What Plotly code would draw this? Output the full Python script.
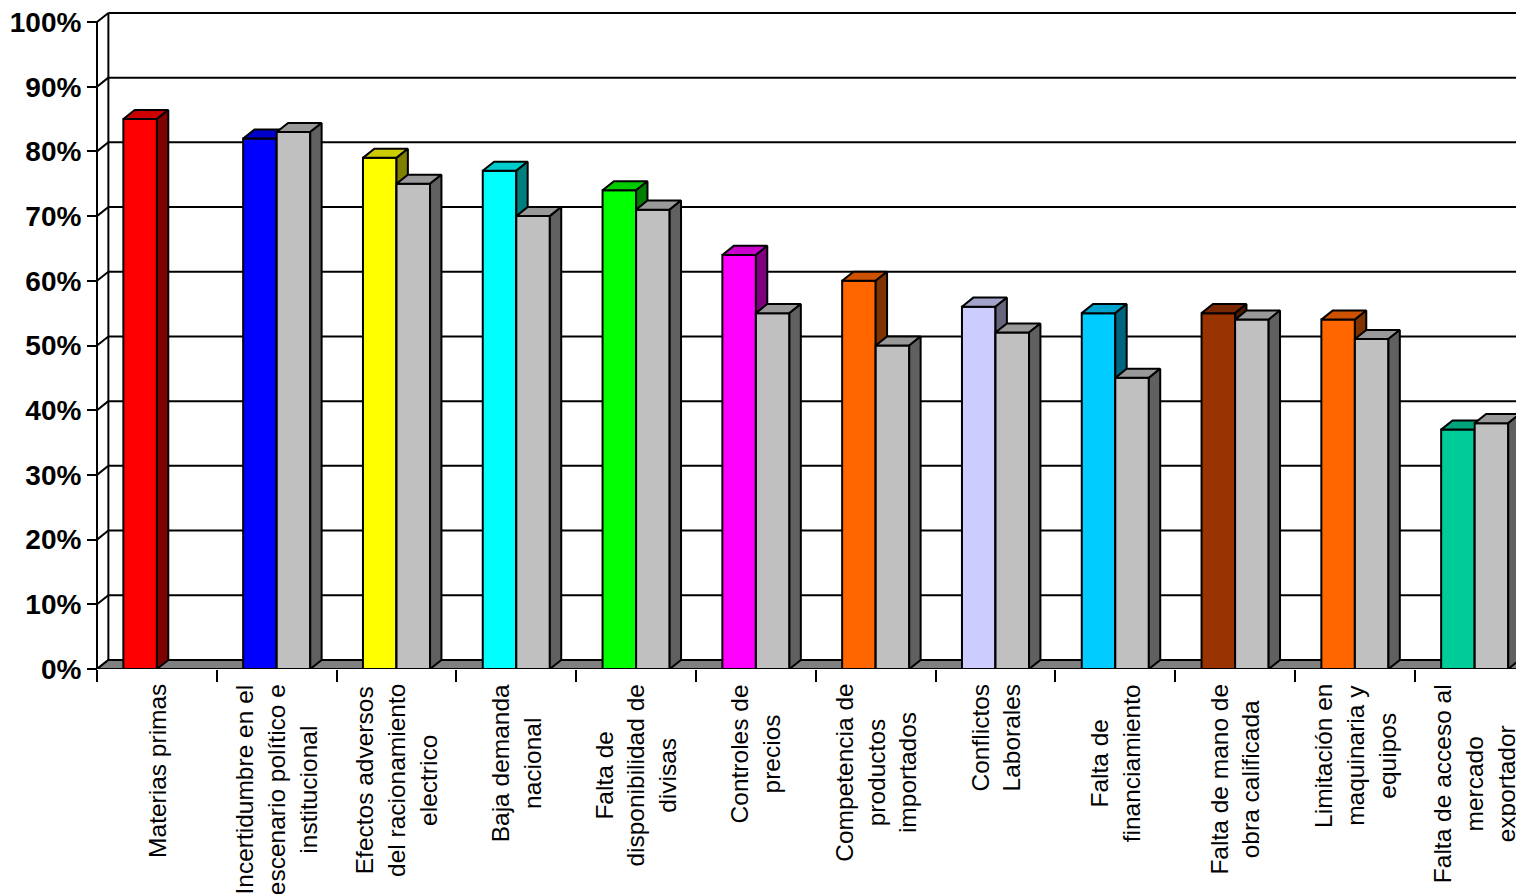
"""Obstáculos a la producción — 3D-style column chart rebuilt with plotly.

Front faces, tops and sides of each column are drawn as filled scatter
polygons so the draw order (back wall, floor, columns) stays under control.
"""

import plotly.graph_objects as go

# ---- data -------------------------------------------------------------
categories = [
    "Materias primas",
    "Incertidumbre en el<br>escenario político e<br>institucional",
    "Efectos adversos<br>del racionamiento<br>electrico",
    "Baja demanda<br>nacional",
    "Falta de<br>disponibilidad de<br>divisas",
    "Controles de<br>precios",
    "Competencia de<br>productos<br>importados",
    "Conflictos<br>Laborales",
    "Falta de<br>financiamiento",
    "Falta de mano de<br>obra calificada",
    "Limitación en<br>maquinaria y<br>equipos",
    "Falta de acceso al<br>mercado<br>exportador",
]
serie_color = [85, 82, 79, 77, 74, 64, 60, 56, 55, 55, 54, 37]
serie_gris = [None, 83, 75, 70, 71, 55, 50, 52, 45, 54, 51, 38]
bar_colors = [
    "#FF0000", "#0000FF", "#FFFF00", "#00FFFF", "#00FF00", "#FF00FF",
    "#FF6600", "#CCCCFF", "#00CCFF", "#993300", "#FF6600", "#00CC99",
]
grey_color = "#C0C0C0"
y_ticks = list(range(0, 101, 10))
y_ticktext = [f"{v}%" for v in y_ticks]

# ---- geometry (data units) -------------------------------------------
BAR_W = 0.28      # width of one column
DX = 0.095        # depth offset along x
DY = 1.4          # depth offset along y (percent points)
X_LEFT = -0.5
X_FAR = 13.0      # lines run past the visible edge, plotly clips them
FONT = "Arial, 'Liberation Sans', sans-serif"


def shade(hex_color, f):
    h = hex_color.lstrip("#")
    r, g, b = (int(h[i:i + 2], 16) for i in (0, 2, 4))
    return "#{:02x}{:02x}{:02x}".format(int(r * f), int(g * f), int(b * f))


def poly(xs, ys, fill):
    return go.Scatter(
        x=xs + [xs[0]], y=ys + [ys[0]], mode="lines", fill="toself",
        fillcolor=fill, line=dict(color="black", width=2),
        hoverinfo="skip", showlegend=False,
    )


def column(x0, v, color):
    x1 = x0 + BAR_W
    front = poly([x0, x1, x1, x0], [0, 0, v, v], color)
    top = poly([x0, x1, x1 + DX, x0 + DX], [v, v, v + DY, v + DY], shade(color, 0.8))
    side = poly([x1, x1 + DX, x1 + DX, x1], [0, DY, v + DY, v], shade(color, 0.5))
    return [front, top, side]


fig = go.Figure()

# back wall gridlines, left wall diagonals, wall edges
gx, gy = [], []
for v in y_ticks:
    if v > 0:
        gx += [X_LEFT + DX, X_FAR, None]
        gy += [v + DY, v + DY, None]
    gx += [X_LEFT, X_LEFT + DX, None]
    gy += [v, v + DY, None]
gx += [X_LEFT + DX, X_LEFT + DX, None, X_LEFT, X_LEFT]
gy += [DY, 100 + DY, None, 0, 100]
fig.add_trace(go.Scatter(
    x=gx, y=gy, mode="lines", line=dict(color="black", width=2),
    hoverinfo="skip", showlegend=False,
))

# floor
fig.add_trace(poly([X_LEFT, X_FAR, X_FAR + DX, X_LEFT + DX], [0, 0, DY, DY], "#808080"))

# columns
for i, (vc, vg) in enumerate(zip(serie_color, serie_gris)):
    for tr in column(i - BAR_W, vc, bar_colors[i]):
        fig.add_trace(tr)
    if vg is not None:
        for tr in column(i, vg, grey_color):
            fig.add_trace(tr)

# category labels, rotated and centred line by line
for i, lab in enumerate(categories):
    fig.add_annotation(
        x=i, y=0, xref="x", yref="y", text=lab, showarrow=False,
        textangle=-90, xanchor="center", yanchor="top", yshift=-13,
        align="center", font=dict(family=FONT, size=24.5, color="black"),
    )

# the page body adds 8px around the figure, so the figure is 8px smaller
W, H = 1516, 886
ML, MB = 72, 225
AXIS_X = 89            # front value axis, figure pixels
px_per_cat = 119.8
px_per_pct = 6.47
plot_w = W - ML
x_start = X_LEFT - (AXIS_X - ML) / px_per_cat
x_end = x_start + plot_w / px_per_cat
y_top = (H - MB) / px_per_pct

fig.update_layout(
    width=W, height=H, template="none",
    paper_bgcolor="white", plot_bgcolor="white",
    margin=dict(l=ML, r=0, t=0, b=MB, pad=0),
    font=dict(family=FONT, color="black"),
    showlegend=False,
    xaxis=dict(
        range=[x_start, x_end], showgrid=False, zeroline=False, showline=False,
        tickvals=[k - 0.5 for k in range(13)], ticks="outside", ticklen=12,
        tickwidth=2, tickcolor="black", showticklabels=False, automargin=False,
    ),
    yaxis=dict(
        range=[0, y_top], anchor="free", position=(AXIS_X - ML) / plot_w,
        showgrid=False, zeroline=False, showline=False,
        tickvals=y_ticks, ticktext=y_ticktext, ticks="outside", ticklen=10,
        tickwidth=2, tickcolor="black", automargin=False,
        ticklabeloverflow="allow",
        tickfont=dict(family=FONT, size=28, color="black", weight="bold"),
    ),
)

fig.write_html("out.html")
